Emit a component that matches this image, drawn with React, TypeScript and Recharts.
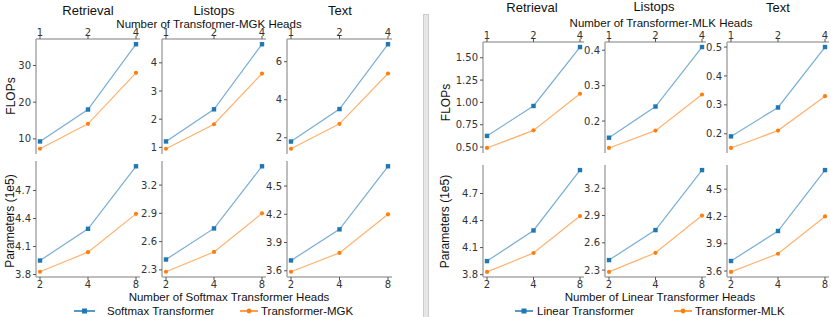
import React from 'react';
import { LineChart, Line, XAxis, YAxis } from 'recharts';

// ---------- data ----------
const HEADS_TOP = ['1', '2', '4'];
const HEADS_BOTTOM = ['2', '4', '8'];

const TASKS = ['Retrieval', 'Listops', 'Text'];

// Left group: Softmax Transformer vs Transformer-MGK
const MGK_FLOPS_RETRIEVAL_SOFTMAX = [9.3, 18.0, 35.8];
const MGK_FLOPS_RETRIEVAL_MGK = [7.3, 14.1, 28.0];
const MGK_FLOPS_LISTOPS_SOFTMAX = [1.21, 2.35, 4.66];
const MGK_FLOPS_LISTOPS_MGK = [0.95, 1.82, 3.62];
const MGK_FLOPS_TEXT_SOFTMAX = [1.8, 3.51, 6.92];
const MGK_FLOPS_TEXT_MGK = [1.42, 2.73, 5.38];

const MGK_PARAMS_RETRIEVAL_SOFTMAX = [3.95, 4.29, 4.96];
const MGK_PARAMS_RETRIEVAL_MGK = [3.83, 4.04, 4.45];
const MGK_PARAMS_LISTOPS_SOFTMAX = [2.41, 2.74, 3.4];
const MGK_PARAMS_LISTOPS_MGK = [2.28, 2.49, 2.9];
const MGK_PARAMS_TEXT_SOFTMAX = [3.71, 4.04, 4.71];
const MGK_PARAMS_TEXT_MGK = [3.59, 3.79, 4.2];

// Right group: Linear Transformer vs Transformer-MLK
const MLK_FLOPS_RETRIEVAL_LINEAR = [0.625, 0.96, 1.62];
const MLK_FLOPS_RETRIEVAL_MLK = [0.49, 0.687, 1.097];
const MLK_FLOPS_LISTOPS_LINEAR = [0.153, 0.241, 0.409];
const MLK_FLOPS_LISTOPS_MLK = [0.124, 0.173, 0.275];
const MLK_FLOPS_TEXT_LINEAR = [0.191, 0.291, 0.5];
const MLK_FLOPS_TEXT_MLK = [0.151, 0.211, 0.33];

const MLK_PARAMS_RETRIEVAL_LINEAR = [3.95, 4.29, 4.96];
const MLK_PARAMS_RETRIEVAL_MLK = [3.83, 4.04, 4.45];
const MLK_PARAMS_LISTOPS_LINEAR = [2.41, 2.74, 3.4];
const MLK_PARAMS_LISTOPS_MLK = [2.28, 2.49, 2.9];
const MLK_PARAMS_TEXT_LINEAR = [3.71, 4.04, 4.71];
const MLK_PARAMS_TEXT_MLK = [3.59, 3.79, 4.2];

// tick labels
const TICKS_MGK_FLOPS = [[10, 20, 30], [1, 2, 3, 4], [2, 4, 6]];
const TICKS_MGK_PARAMS = [[3.8, 4.1, 4.4, 4.7], [2.3, 2.6, 2.9, 3.2], [3.6, 3.9, 4.2, 4.5]];
const TICKS_MLK_FLOPS = [[0.5, 0.75, 1.0, 1.25, 1.5], [0.2, 0.3, 0.4], [0.2, 0.3, 0.4, 0.5]];
const TICKS_MLK_PARAMS = [[3.8, 4.1, 4.4, 4.7], [2.3, 2.6, 2.9, 3.2], [3.6, 3.9, 4.2, 4.5]];

const SERIES_LEFT = ['Softmax Transformer', 'Transformer-MGK'];
const SERIES_RIGHT = ['Linear Transformer', 'Transformer-MLK'];

// ---------- styles ----------
const BLUE = '#1f77b4';
const ORANGE = '#ff7f0e';
const SPINE = '#a9a9a9';
const TICK_FONT = { fontSize: 10, fontFamily: '"DejaVu Sans", sans-serif', fill: '#333' };
const LABEL_FONT = '"Liberation Sans", Arial, sans-serif';

type PanelProps = {
  x: number; y: number; w: number; h: number;
  cats: string[]; a: number[]; b: number[];
  ticks: number[]; dec: number; top: boolean;
};

function Panel({ x, y, w, h, cats, a, b, ticks, dec, top }: PanelProps) {
  const data = cats.map((c, i) => ({ h: c, a: a[i], b: b[i] }));
  const all = [...a, ...b];
  const mn = Math.min(...all);
  const mx = Math.max(...all);
  const r = mx - mn;
  const domain: [number, number] = [mn - 0.05 * r, mx + 0.05 * r];
  const YW = 34, AX = 16, M = 2;
  const margin = { top: top ? 0 : M, bottom: top ? M : 0, left: 0, right: M };
  const width = YW + w + M;
  const height = h + AX + M;
  const left = x - YW;
  const topPx = y - (top ? AX : M);
  const axisLine = { stroke: SPINE, strokeWidth: 1.5 };
  return (
    <div style={{ position: 'absolute', left, top: topPx }}>
      <LineChart width={width} height={height} data={data} margin={margin}>
        <XAxis
          xAxisId="main" dataKey="h" type="category" orientation={top ? 'top' : 'bottom'}
          height={AX} padding={{ left: 4, right: 4 }} tickSize={3} tickMargin={top ? 0 : 1}
          axisLine={axisLine} tickLine={{ stroke: '#555' }} tick={TICK_FONT} interval={0}
        />
        <XAxis
          xAxisId="other" dataKey="h" type="category" orientation={top ? 'bottom' : 'top'}
          height={0} tick={false} tickLine={false} axisLine={axisLine}
        />
        <YAxis
          yAxisId="main" type="number" width={YW} domain={domain} ticks={ticks}
          allowDataOverflow tickSize={3} tickMargin={2} axisLine={axisLine}
          tickLine={{ stroke: '#555' }} tick={TICK_FONT} interval={0}
          tickFormatter={(v: number) => v.toFixed(dec)}
        />
        <YAxis
          yAxisId="right" orientation="right" type="number" width={0} domain={domain}
          allowDataOverflow tick={false} tickLine={false} axisLine={axisLine}
        />
        <Line
          xAxisId="main" yAxisId="main" dataKey="a" stroke={BLUE} strokeOpacity={0.6}
          strokeWidth={1.2} isAnimationActive={false}
          dot={(p: any) => (
            <rect key={`a${p.index}`} x={p.cx - 2.2} y={p.cy - 2.2} width={4.4} height={4.4} fill={BLUE} />
          )}
        />
        <Line
          xAxisId="main" yAxisId="main" dataKey="b" stroke={ORANGE} strokeOpacity={0.6}
          strokeWidth={1.2} isAnimationActive={false}
          dot={(p: any) => <circle key={`b${p.index}`} cx={p.cx} cy={p.cy} r={2.1} fill={ORANGE} />}
        />
      </LineChart>
    </div>
  );
}

const LEFT_COLS = [{ x: 36, w: 104 }, { x: 162, w: 104 }, { x: 287, w: 105 }];
const RIGHT_COLS = [{ x: 483, w: 101 }, { x: 605, w: 101 }, { x: 727, w: 102 }];

const MGK_FLOPS = [
  [MGK_FLOPS_RETRIEVAL_SOFTMAX, MGK_FLOPS_RETRIEVAL_MGK],
  [MGK_FLOPS_LISTOPS_SOFTMAX, MGK_FLOPS_LISTOPS_MGK],
  [MGK_FLOPS_TEXT_SOFTMAX, MGK_FLOPS_TEXT_MGK],
];
const MGK_PARAMS = [
  [MGK_PARAMS_RETRIEVAL_SOFTMAX, MGK_PARAMS_RETRIEVAL_MGK],
  [MGK_PARAMS_LISTOPS_SOFTMAX, MGK_PARAMS_LISTOPS_MGK],
  [MGK_PARAMS_TEXT_SOFTMAX, MGK_PARAMS_TEXT_MGK],
];
const MLK_FLOPS = [
  [MLK_FLOPS_RETRIEVAL_LINEAR, MLK_FLOPS_RETRIEVAL_MLK],
  [MLK_FLOPS_LISTOPS_LINEAR, MLK_FLOPS_LISTOPS_MLK],
  [MLK_FLOPS_TEXT_LINEAR, MLK_FLOPS_TEXT_MLK],
];
const MLK_PARAMS = [
  [MLK_PARAMS_RETRIEVAL_LINEAR, MLK_PARAMS_RETRIEVAL_MLK],
  [MLK_PARAMS_LISTOPS_LINEAR, MLK_PARAMS_LISTOPS_MLK],
  [MLK_PARAMS_TEXT_LINEAR, MLK_PARAMS_TEXT_MLK],
];

const DEC_MGK_FLOPS = [0, 0, 0];
const DEC_PARAMS = [1, 1, 1];
const DEC_MLK_FLOPS = [2, 1, 1];

function LegendItem({ x1, x2, tx, y, color, square, label }: any) {
  const mid = (x1 + x2) / 2;
  return (
    <g>
      <line x1={x1} x2={x2} y1={y} y2={y} stroke={color} strokeWidth={1.5} />
      {square ? (
        <rect x={mid - 2.5} y={y - 2.5} width={5} height={5} fill={color} />
      ) : (
        <circle cx={mid} cy={y} r={2.4} fill={color} />
      )}
      <text x={tx} y={y} dominantBaseline="central" fontSize={11.5} fontFamily={LABEL_FONT} fill="#111">
        {label}
      </text>
    </g>
  );
}

export default function App() {
  return (
    <div style={{ position: 'absolute', left: 0, top: 0, width: 831, height: 317, background: '#fff', overflow: 'hidden' }}>
      {LEFT_COLS.map((c, i) => (
        <Panel key={`lt${i}`} x={c.x} y={39} w={c.w} h={115} cats={HEADS_TOP}
          a={MGK_FLOPS[i][0]} b={MGK_FLOPS[i][1]} ticks={TICKS_MGK_FLOPS[i]} dec={DEC_MGK_FLOPS[i]} top />
      ))}
      {LEFT_COLS.map((c, i) => (
        <Panel key={`lb${i}`} x={c.x} y={161} w={c.w} h={116} cats={HEADS_BOTTOM}
          a={MGK_PARAMS[i][0]} b={MGK_PARAMS[i][1]} ticks={TICKS_MGK_PARAMS[i]} dec={DEC_PARAMS[i]} top={false} />
      ))}
      {RIGHT_COLS.map((c, i) => (
        <Panel key={`rt${i}`} x={c.x} y={42} w={c.w} h={111} cats={HEADS_TOP}
          a={MLK_FLOPS[i][0]} b={MLK_FLOPS[i][1]} ticks={TICKS_MLK_FLOPS[i]} dec={DEC_MLK_FLOPS[i]} top />
      ))}
      {RIGHT_COLS.map((c, i) => (
        <Panel key={`rb${i}`} x={c.x} y={165} w={c.w} h={112} cats={HEADS_BOTTOM}
          a={MLK_PARAMS[i][0]} b={MLK_PARAMS[i][1]} ticks={TICKS_MLK_PARAMS[i]} dec={DEC_PARAMS[i]} top={false} />
      ))}

      <div style={{ position: 'absolute', left: 423, top: 14, width: 6, height: 310, background: '#e6e6e6', border: '1px solid #cdcdcd', boxSizing: 'border-box' }} />

      <svg width={831} height={317} style={{ position: 'absolute', left: 0, top: 0, pointerEvents: 'none' }}>
        <g fontFamily={LABEL_FONT} fill="#111" textAnchor="middle">
          <text x={88} y={14.5} fontSize={13}>{TASKS[0]}</text>
          <text x={214} y={14.5} fontSize={13}>{TASKS[1]}</text>
          <text x={340} y={14.5} fontSize={13}>{TASKS[2]}</text>
          <text x={209} y={27.5} fontSize={11.5}>Number of Transformer-MGK Heads</text>

          <text x={532} y={12} fontSize={13}>{TASKS[0]}</text>
          <text x={654} y={11} fontSize={13}>{TASKS[1]}</text>
          <text x={778} y={12} fontSize={13}>{TASKS[2]}</text>
          <text x={661} y={27} fontSize={11.5}>Number of Transformer-MLK Heads</text>

          <text transform="translate(10.5,96) rotate(-90)" dominantBaseline="central" fontSize={12}>FLOPs</text>
          <text transform="translate(10,221) rotate(-90)" dominantBaseline="central" fontSize={12}>Parameters (1e5)</text>
          <text transform="translate(445.5,102.5) rotate(-90)" dominantBaseline="central" fontSize={12}>FLOPs</text>
          <text transform="translate(445,221.5) rotate(-90)" dominantBaseline="central" fontSize={12}>Parameters (1e5)</text>

          <text x={229} y={297} dominantBaseline="central" fontSize={11.5}>Number of Softmax Transformer Heads</text>
          <text x={660} y={297} dominantBaseline="central" fontSize={11.5}>Number of Linear Transformer Heads</text>
        </g>
        <LegendItem x1={74} x2={95} tx={107} y={311} color={BLUE} square label={SERIES_LEFT[0]} />
        <LegendItem x1={240} x2={258} tx={261} y={311} color={ORANGE} square={false} label={SERIES_LEFT[1]} />
        <LegendItem x1={515} x2={533} tx={537} y={311} color={BLUE} square label={SERIES_RIGHT[0]} />
        <LegendItem x1={674} x2={692} tx={695} y={311} color={ORANGE} square={false} label={SERIES_RIGHT[1]} />
      </svg>
    </div>
  );
}
